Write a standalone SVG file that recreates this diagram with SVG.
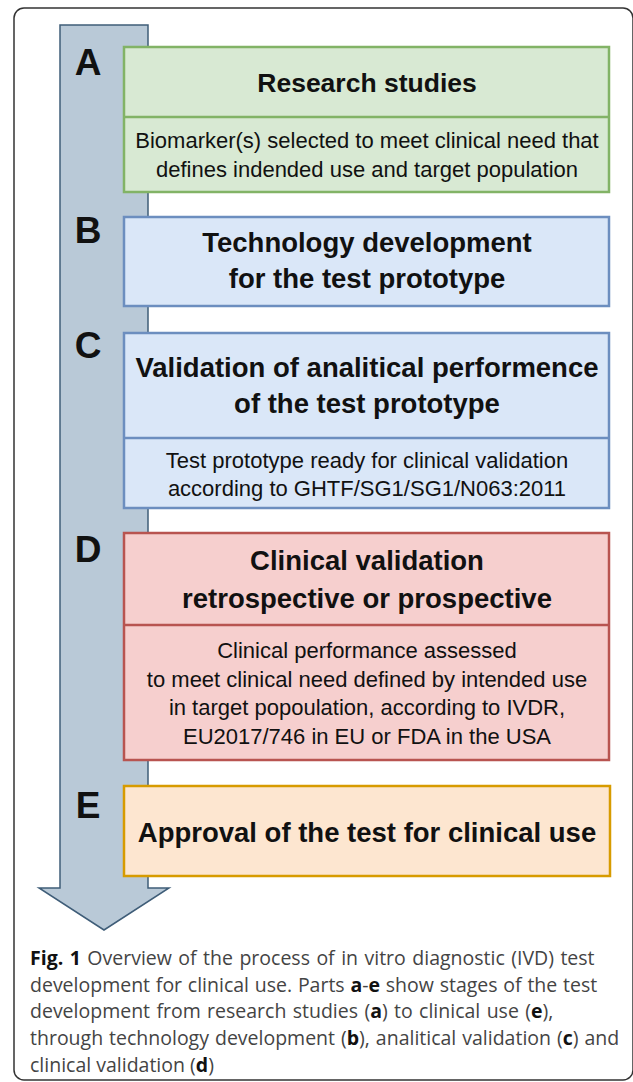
<svg xmlns="http://www.w3.org/2000/svg" width="633" height="1082" viewBox="0 0 633 1082">
<style>
.frame{fill:#fff;stroke:#333;stroke-width:1.5}
.arrow{fill:#b9c9d7;stroke:#3f5d78;stroke-width:1.5}
.green{fill:#d8e9d3;stroke:#82b366;stroke-width:2.5}
.blue{fill:#dae7f8;stroke:#6c8ebf;stroke-width:2.5}
.red{fill:#f6cfce;stroke:#b85450;stroke-width:2.5}
.orange{fill:#fde6d0;stroke:#d79b00;stroke-width:2.5}
.lbl{font-family:"Liberation Sans",Arial,sans-serif;font-weight:bold;font-size:37px;fill:#111;text-anchor:middle}
.ttl{font-family:"Liberation Sans",Arial,sans-serif;font-weight:bold;font-size:27.5px;fill:#111;text-anchor:middle}
.sub{font-family:"Liberation Sans",Arial,sans-serif;font-size:22px;fill:#111;text-anchor:middle}
.cap{font-family:"Open Sans",sans-serif;font-size:19.5px;fill:#444}
.cap tspan.b{font-weight:bold;fill:#111}
</style>
<rect class="frame" x="14" y="8" width="619" height="1072" rx="10"/>
<g id="connectors">
<path class="arrow" d="M60 25 H148 V888 H169 L104 930 L39 888 H60 Z"/>
</g>
<g id="node-A">
<rect class="green" x="124" y="47" width="485" height="145"/>
<line class="green" x1="124" y1="117" x2="609" y2="117"/>
<text class="lbl" x="88" y="75">A</text>
<text class="ttl" x="367" y="92" style="font-size:26.5px">Research studies</text>
<text class="sub" x="367" y="148">Biomarker(s) selected to meet clinical need that</text>
<text class="sub" x="367" y="177">defines indended use and target population</text>
</g>
<g id="node-B">
<rect class="blue" x="124" y="217" width="485" height="89"/>
<text class="lbl" x="88" y="243">B</text>
<text class="ttl" x="367" y="252">Technology development</text>
<text class="ttl" x="367" y="288">for the test prototype</text>
</g>
<g id="node-C">
<rect class="blue" x="124" y="333" width="485" height="175"/>
<line class="blue" x1="124" y1="438" x2="609" y2="438"/>
<text class="lbl" x="88" y="358">C</text>
<text class="ttl" x="367" y="377">Validation of analitical performence</text>
<text class="ttl" x="367" y="413">of the test prototype</text>
<text class="sub" x="367" y="468">Test prototype ready for clinical validation</text>
<text class="sub" x="367" y="496">according to GHTF/SG1/SG1/N063:2011</text>
</g>
<g id="node-D">
<rect class="red" x="124" y="533" width="485" height="227"/>
<line class="red" x1="124" y1="625" x2="609" y2="625"/>
<text class="lbl" x="88" y="562">D</text>
<text class="ttl" x="367" y="570">Clinical validation</text>
<text class="ttl" x="367" y="608">retrospective or prospective</text>
<text class="sub" x="367" y="658">Clinical performance assessed</text>
<text class="sub" x="367" y="687">to meet clinical need defined by intended use</text>
<text class="sub" x="367" y="715">in target popoulation, according to IVDR,</text>
<text class="sub" x="367" y="744">EU2017/746 in EU or FDA in the USA</text>
</g>
<g id="node-E">
<rect class="orange" x="124" y="786" width="486" height="90"/>
<text class="lbl" x="88" y="818">E</text>
<text class="ttl" x="367" y="842">Approval of the test for clinical use</text>
</g>
<g id="caption">
<text class="cap" x="30" y="965" word-spacing="1.4"><tspan class="b">Fig. 1</tspan> Overview of the process of in vitro diagnostic (IVD) test</text>
<text class="cap" x="30" y="992" word-spacing="0.7">development for clinical use. Parts <tspan class="b">a</tspan>-<tspan class="b">e</tspan> show stages of the test</text>
<text class="cap" x="30" y="1018" word-spacing="1.3">development from research studies (<tspan class="b">a</tspan>) to clinical use (<tspan class="b">e</tspan>),</text>
<text class="cap" x="30" y="1045" word-spacing="0.9">through technology development (<tspan class="b">b</tspan>), analitical validation (<tspan class="b">c</tspan>) and</text>
<text class="cap" x="30" y="1072">clinical validation (<tspan class="b">d</tspan>)</text>
</g>
</svg>
